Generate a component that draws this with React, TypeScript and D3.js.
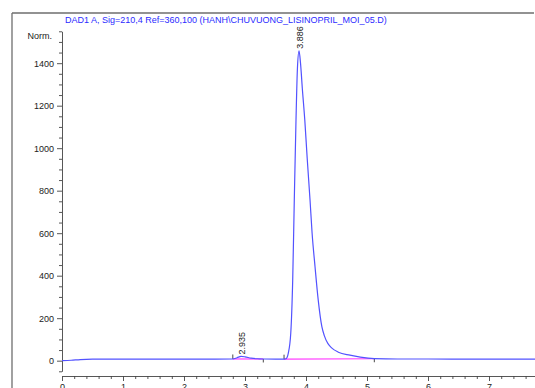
import React, { useEffect, useRef } from "react";
import * as d3 from "d3";

// retention time (min) and signal (mAU)
const times = [
  0, 0.15, 0.3, 0.5, 1.0, 1.5, 2.0, 2.5, 2.8, 2.87, 2.935, 3.0, 3.1, 3.2, 3.3,
  3.5, 3.64, 3.672, 3.71, 3.75, 3.782, 3.808, 3.836, 3.86, 3.886, 3.91, 3.94,
  3.98, 4.02, 4.066, 4.1, 4.148, 4.2, 4.26, 4.3, 4.36, 4.42, 4.53, 4.72, 4.89,
  5.12, 5.5, 6.0, 6.5, 7.0, 7.5, 7.754,
];
const signal = [
  0, 2, 5, 7, 7, 7, 7.5, 7.5, 8, 14, 20, 18, 12, 9, 8, 7.5, 7, 9, 36, 129, 380,
  756, 1133, 1380, 1458, 1400, 1280, 1133, 950, 756, 600, 442, 286, 160, 118,
  80, 60, 40, 26, 17, 10, 8, 8, 7.5, 7.5, 7, 7,
];

// integration baselines: [start, end, startValue, endValue]
const baselines = [
  [2.8, 3.3, 8, 8],
  [3.64, 5.12, 7, 9],
];

const peakTimes = [2.935, 3.886];
const peakLabels = ["2.935", "3.886"];
const peakHeights = [20, 1458];

const yMajor = [0, 200, 400, 600, 800, 1000, 1200, 1400];
const xMajor = [0, 1, 2, 3, 4, 5, 6, 7];

const W = 535;
const H = 388;
const FONT = "Arial, 'Liberation Sans', sans-serif";

export default function App() {
  const ref = useRef<SVGSVGElement>(null);

  useEffect(() => {
    const svg = d3.select(ref.current);
    svg.selectAll("*").remove();

    const x = d3.scaleLinear().domain([0, 7.754]).range([62, 535]);
    const y = d3.scaleLinear().domain([-50, 1550]).range([371.3, 31.3]);

    // outer frame
    svg.append("line").attr("x1", 12).attr("x2", 12).attr("y1", 13).attr("y2", H)
      .attr("stroke", "#6e6e6e").attr("stroke-width", 1.3);
    svg.append("line").attr("x1", 12).attr("x2", 534).attr("y1", 13).attr("y2", 13)
      .attr("stroke", "#6e6e6e").attr("stroke-width", 1.3);

    svg.append("text")
      .attr("x", 65).attr("y", 23)
      .attr("font-family", FONT).attr("font-size", 9)
      .attr("fill", "#2b2bff")
      .text("DAD1 A, Sig=210,4 Ref=360,100 (HANH\\CHUVUONG_LISINOPRIL_MOI_05.D)");

    svg.append("text")
      .attr("x", 52).attr("y", 39)
      .attr("text-anchor", "end")
      .attr("font-family", FONT).attr("font-size", 9)
      .attr("fill", "#222")
      .text("Norm.");

    // y axis
    const yMinor = d3.range(-50, 1551, 50).filter(v => v % 200 !== 0);
    const gy = svg.append("g").attr("transform", "translate(62,0)");
    gy.call(
      d3.axisLeft(y).tickValues(yMajor).tickSize(5).tickSizeOuter(0).tickPadding(3)
        .tickFormat(d3.format("d"))
    );
    gy.append("g").call(
      d3.axisLeft(y).tickValues(yMinor).tickSize(3).tickFormat(() => "")
    ).select(".domain").remove();

    // x axis
    const xMinor = d3.range(0, 7.75, 0.2).filter(v => Math.abs(v - Math.round(v)) > 0.01);
    const gx = svg.append("g").attr("transform", "translate(0,376)");
    gx.call(
      d3.axisBottom(x).tickValues(xMajor).tickSize(5).tickSizeOuter(0).tickPadding(3)
        .tickFormat(d3.format("d"))
    );
    gx.append("g").call(
      d3.axisBottom(x).tickValues(xMinor).tickSize(3).tickFormat(() => "")
    ).select(".domain").remove();

    svg.selectAll(".tick text").attr("font-family", FONT).attr("font-size", 9).attr("fill", "#222");
    svg.selectAll(".domain, .tick line").attr("stroke", "#444").attr("stroke-width", 0.9);

    // integration baselines and markers
    baselines.forEach(([t0, t1, v0, v1]) => {
      svg.append("line")
        .attr("x1", x(t0)).attr("x2", x(t1))
        .attr("y1", y(v0)).attr("y2", y(v1))
        .attr("stroke", "#ff3cff").attr("stroke-width", 1.2);
      svg.append("line")
        .attr("x1", x(t0)).attr("x2", x(t0))
        .attr("y1", y(v0)).attr("y2", y(v0) - 4.5)
        .attr("stroke", "#333").attr("stroke-width", 0.9);
      svg.append("line")
        .attr("x1", x(t1)).attr("x2", x(t1))
        .attr("y1", y(v1)).attr("y2", y(v1) + 3.5)
        .attr("stroke", "#333").attr("stroke-width", 0.9);
    });

    // signal trace
    const pts = times.map((t, i) => [t, signal[i]] as [number, number]);
    const line = d3.line<[number, number]>()
      .x(d => x(d[0]))
      .y(d => y(d[1]))
      .curve(d3.curveMonotoneX);
    svg.append("path")
      .attr("d", line(pts))
      .attr("fill", "none")
      .attr("stroke", "#5252ff")
      .attr("stroke-width", 1.2);

    // peak retention time labels
    peakTimes.forEach((t, i) => {
      svg.append("text")
        .attr("transform", `translate(${x(t) + 3.8},${y(peakHeights[i]) - 2}) rotate(-90)`)
        .attr("font-family", FONT).attr("font-size", 9)
        .attr("fill", "#222")
        .text(peakLabels[i]);
    });
  }, []);

  return (
    <svg
      ref={ref}
      width={W}
      height={H}
      style={{ position: "absolute", left: 0, top: 0, background: "#fff" }}
    />
  );
}
